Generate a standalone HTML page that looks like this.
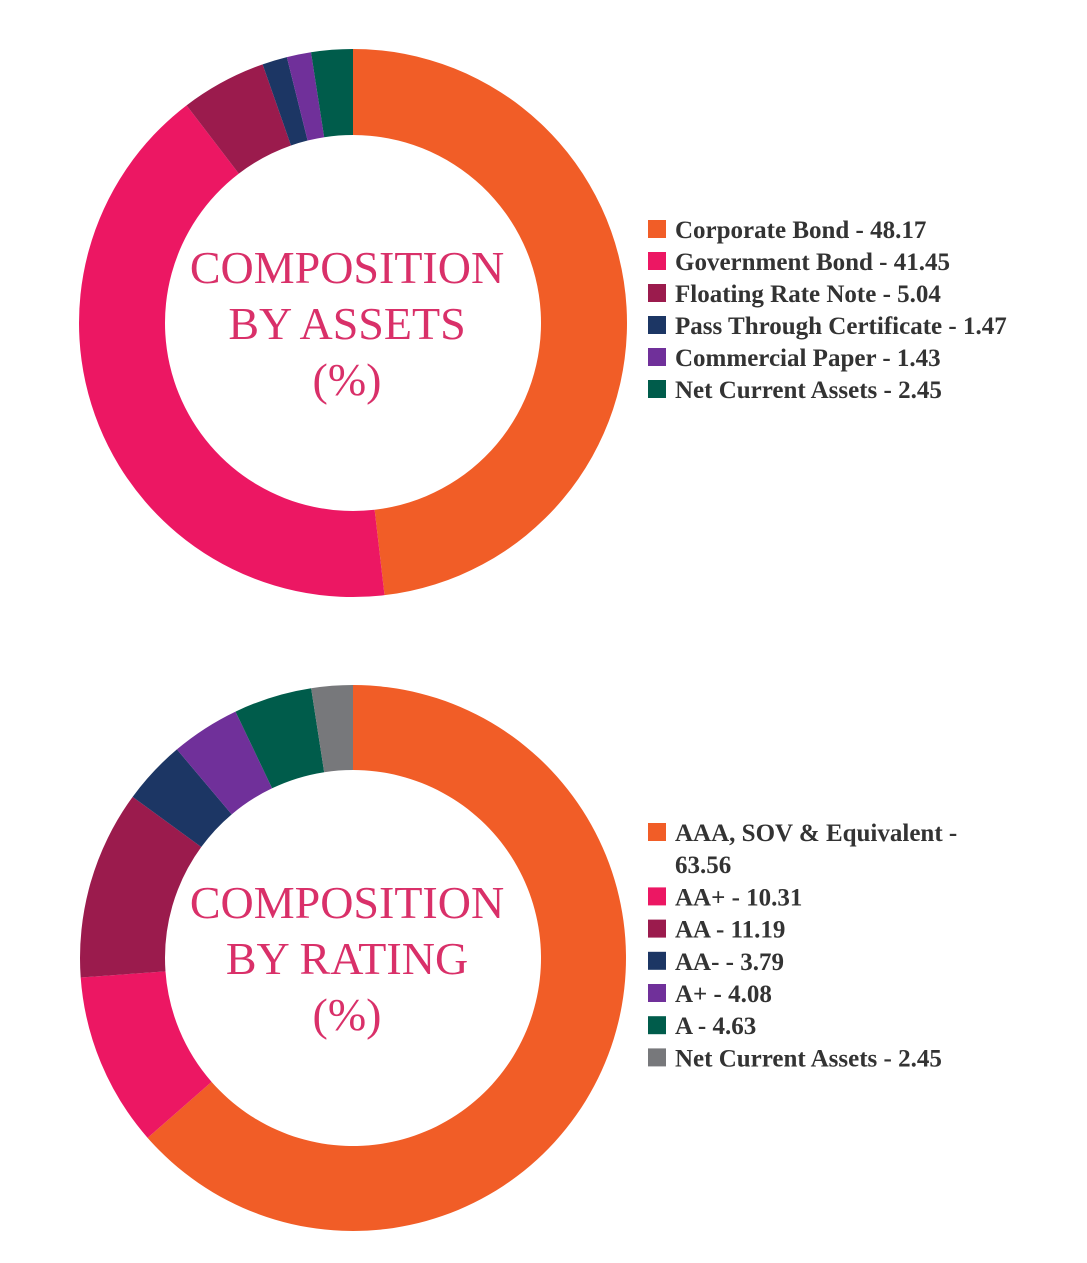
<!DOCTYPE html>
<html><head><meta charset="utf-8"><style>
html,body{margin:0;padding:0;background:#fff;}
body{width:1087px;height:1263px;overflow:hidden;}
svg{display:block;}
</style></head><body>
<svg id="chart" width="1087" height="1263" viewBox="0 0 1087 1263"></svg>
<script>
const assetLabels = ["Corporate Bond - 48.17","Government Bond - 41.45","Floating Rate Note - 5.04","Pass Through Certificate - 1.47","Commercial Paper - 1.43","Net Current Assets - 2.45"];
const assetValues = [48.17,41.45,5.04,1.47,1.43,2.45];
const ratingLabels = [["AAA, SOV & Equivalent -","63.56"],["AA+ - 10.31"],["AA - 11.19"],["AA- - 3.79"],["A+ - 4.08"],["A - 4.63"],["Net Current Assets - 2.45"]];
const ratingValues = [63.56,10.31,11.19,3.79,4.08,4.63,2.45];
const assetColors = ["#F15D27","#EC1763","#9B1B4D","#1C3664","#70309A","#005C4B"];
const ratingColors = ["#F15D27","#EC1763","#9B1B4D","#1C3664","#70309A","#005C4B","#77787B"];
const NS="http://www.w3.org/2000/svg";
const svg=document.getElementById('chart');
function mk(t,a){const e=document.createElementNS(NS,t);for(const k in a)e.setAttribute(k,a[k]);return e;}
function pt(cx,cy,r,f){const a=f*2*Math.PI-Math.PI/2;return [cx+r*Math.cos(a),cy+r*Math.sin(a)];}
function donut(name,cx,cy,R,r,vals,cols,title){
  const g=mk('g',{});svg.appendChild(g);
  const tot=vals.reduce((s,v)=>s+v,0);let acc=0;
  vals.forEach((v,i)=>{
    const f0=acc/tot,f1=(acc+v)/tot;acc+=v;
    const [x0,y0]=pt(cx,cy,R,f0),[x1,y1]=pt(cx,cy,R,f1),[x2,y2]=pt(cx,cy,r,f1),[x3,y3]=pt(cx,cy,r,f0);
    const lg=(f1-f0)>0.5?1:0;
    const p=mk('path',{d:`M${x0},${y0}A${R},${R} 0 ${lg} 1 ${x1},${y1}L${x2},${y2}A${r},${r} 0 ${lg} 0 ${x3},${y3}Z`,fill:cols[i]});
    
    
    g.appendChild(p);
  });
  title.forEach((t,i)=>{
    const tx=mk('text',{x:cx-6,y:cy-0+(i-1)*56+16,'text-anchor':'middle','font-family':'"Liberation Serif",serif','font-size':'46',fill:'#D93069'});
    tx.textContent=t;
    
    
    g.appendChild(tx);
  });
}
function legend(name,x,y0,labels,cols,step){
  const g=mk('g',{});svg.appendChild(g);
  let y=y0;
  labels.forEach((lab,i)=>{
    const lines=Array.isArray(lab)?lab:[lab];
    const e=mk('g',{});
    
    
    e.appendChild(mk('rect',{x:x,y:y-9,width:18,height:18,fill:cols[i]}));
    lines.forEach((ln,j)=>{
      const t=mk('text',{x:x+27,y:y+9+j*step,'font-family':'"Liberation Serif",serif','font-size':'25','font-weight':'bold',fill:'#333'});
      t.textContent=ln;e.appendChild(t);
    });
    g.appendChild(e);
    y+=step*lines.length;
  });
}
donut('assets-donut',353,323,274,188,assetValues,assetColors,['COMPOSITION','BY ASSETS','(%)']);
donut('rating-donut',353,958,273,188,ratingValues,ratingColors,['COMPOSITION','BY RATING','(%)']);
legend('assets-legend',648,229,assetLabels,assetColors,32);
legend('rating-legend',648,832,ratingLabels,ratingColors,32.2);
</script>
</body></html>
